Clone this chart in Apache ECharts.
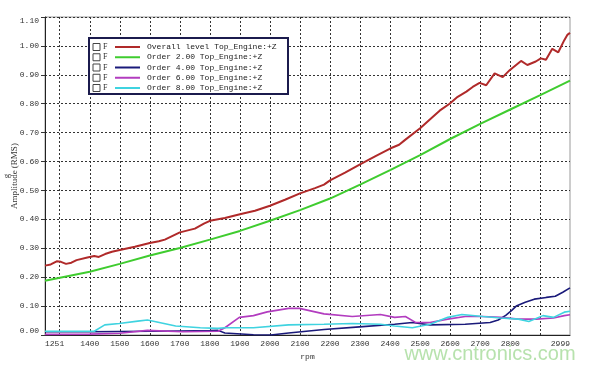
<!DOCTYPE html>
<html>
<head>
<meta charset="utf-8">
<script src="https://cdn.jsdelivr.net/npm/echarts@6.0.0/dist/echarts.min.js"></script>
<style>html,body{margin:0;padding:0;background:#fff;}#c{width:600px;height:366px;}</style>
</head>
<body>
<div id="c"></div>
<script>
// ---- data ----
const seriesNames = ['Overall level Top_Engine:+Z','Order 2.00 Top_Engine:+Z','Order 4.00 Top_Engine:+Z','Order 6.00 Top_Engine:+Z','Order 8.00 Top_Engine:+Z'];
const xLabelValues = [1251,1400,1500,1600,1700,1800,1900,2000,2100,2200,2300,2400,2500,2600,2700,2800,2999];
const xGridValues = [1300,1400,1500,1600,1700,1800,1900,2000,2100,2200,2300,2400,2500,2600,2700,2800,2900];

const overallRpm = [1251,1270,1290,1304,1321,1339,1356,1392,1415,1430,1451,1474,1500,1550,1600,1630,1650,1700,1750,1780,1800,1850,1900,1950,2000,2050,2100,2150,2180,2200,2250,2300,2350,2400,2430,2450,2500,2537,2565,2598,2625,2654,2675,2698,2720,2748,2775,2799,2836,2857,2885,2902,2919,2940,2960,2980,2990,2999];
const overallAmp = [0.240,0.244,0.255,0.253,0.246,0.250,0.259,0.268,0.273,0.270,0.280,0.288,0.294,0.305,0.318,0.324,0.330,0.355,0.368,0.385,0.395,0.405,0.418,0.430,0.447,0.468,0.490,0.508,0.520,0.535,0.562,0.590,0.618,0.645,0.658,0.675,0.715,0.750,0.776,0.800,0.824,0.842,0.858,0.872,0.864,0.905,0.892,0.917,0.948,0.934,0.946,0.957,0.952,0.990,0.978,1.020,1.038,1.045];

const order2Rpm = [1251,1400,1500,1600,1700,1800,1900,2000,2100,2200,2300,2400,2500,2600,2700,2800,2900,2999];
const order2Amp = [0.188,0.219,0.246,0.275,0.301,0.330,0.360,0.395,0.432,0.472,0.520,0.570,0.622,0.678,0.730,0.780,0.830,0.880];

const order4Rpm = [1251,1400,1500,1600,1700,1800,1827,1850,1945,2003,2062,2180,2298,2415,2474,2533,2650,2733,2760,2785,2805,2820,2850,2880,2920,2950,2975,2999];
const order4Amp = [0.011,0.011,0.012,0.013,0.014,0.015,0.016,0.007,0.001,0.000,0.007,0.019,0.028,0.037,0.043,0.035,0.037,0.043,0.052,0.068,0.085,0.100,0.113,0.124,0.130,0.134,0.148,0.163];

const order6Rpm = [1251,1400,1500,1592,1709,1827,1850,1898,1945,1991,2062,2098,2180,2274,2368,2415,2451,2486,2533,2592,2650,2709,2768,2827,2886,2944,2980,2999];
const order6Amp = [0.002,0.003,0.006,0.016,0.011,0.013,0.025,0.061,0.067,0.080,0.092,0.092,0.073,0.064,0.071,0.061,0.064,0.043,0.043,0.055,0.064,0.064,0.061,0.055,0.055,0.059,0.067,0.070];

const order8Rpm = [1251,1415,1450,1498,1560,1592,1620,1686,1768,1827,1850,1945,2062,2180,2274,2368,2415,2474,2533,2592,2639,2709,2768,2827,2862,2909,2944,2980,2999];
const order8Amp = [0.013,0.013,0.035,0.040,0.048,0.052,0.046,0.031,0.025,0.023,0.025,0.025,0.035,0.037,0.040,0.037,0.031,0.025,0.037,0.061,0.071,0.064,0.059,0.055,0.047,0.067,0.061,0.079,0.082];

const colors = ['#b02a2a','#3fcc2f','#1a1a7a','#b23cbf','#3fd3e0'];
const widths = [2,2,1.6,1.6,1.6];

function zip(a,b){ return a.map((v,i)=>[v,b[i]]); }
const allData = [zip(overallRpm,overallAmp),zip(order2Rpm,order2Amp),zip(order4Rpm,order4Amp),zip(order6Rpm,order6Amp),zip(order8Rpm,order8Amp)];

const chart = echarts.init(document.getElementById('c'), null, {renderer:'canvas'});
const axisFont = {fontFamily:'Liberation Mono', fontSize:8, color:'#333'};

const rowY = [47,57.25,67.5,77.75,88];
const graphics = [
  {type:'rect', z:50, shape:{x:89,y:38,width:199,height:56}, style:{fill:'#fff', stroke:'#1b1b4d', lineWidth:2}},
  {type:'text', z:60, x:7, y:176, rotation:Math.PI/2, style:{text:'g', font:'9px Liberation Serif', fill:'#333', align:'center', verticalAlign:'middle'}},
  {type:'text', z:60, x:490, y:354, style:{text:'www.cntronics.com', font:'20px Liberation Sans', fill:'#b7e2ad', align:'center', verticalAlign:'middle'}}
];
rowY.forEach(y=>{
  graphics.push({type:'rect', z:60, shape:{x:93,y:y-3.5,width:7,height:7}, style:{fill:'#fff', stroke:'#444', lineWidth:1}});
  graphics.push({type:'text', z:60, x:103, y:y, style:{text:'F', font:'8px Liberation Serif', fill:'#333', verticalAlign:'middle'}});
});

chart.setOption({
  animation:false,
  backgroundColor:'#fff',
  grid:{left:45, right:30, top:17, bottom:31, outerBoundsMode:'none', containLabel:false, show:true, borderColor:'#9a9a9a', borderWidth:1},
  legend:{
    data:seriesNames.map((n,i)=>({name:n, icon:'rect', itemStyle:{color:colors[i]}})),
    orient:'vertical', left:115, top:42, padding:0, itemGap:0.25,
    itemWidth:25, itemHeight:2, selectedMode:false, z:55,
    textStyle:{fontFamily:'Liberation Mono', fontSize:8, lineHeight:10, color:'#222', padding:[0,0,0,2]}
  },
  xAxis:{
    type:'value', min:1251, max:2999,
    name:'rpm', nameLocation:'middle', nameGap:17,
    nameTextStyle:{fontFamily:'Liberation Mono', fontSize:8, color:'#333'},
    axisLine:{show:true, onZero:false, lineStyle:{color:'#222', width:1}},
    axisTick:{show:false, customValues:xGridValues},
    axisLabel:Object.assign({customValues:xLabelValues, formatter:v=>String(Math.round(v)), margin:5, alignMinLabel:'left', alignMaxLabel:'right', showMinLabel:true, showMaxLabel:true}, axisFont),
    splitLine:{show:true, lineStyle:{color:'#333', type:[2,2], width:1}}
  },
  yAxis:{
    type:'value', min:0, max:1.1, interval:0.1,
    name:'Amplitude (RMS)', nameLocation:'middle', nameGap:26, nameMoveOverlap:false,
    nameTextStyle:{fontFamily:'Liberation Serif', fontSize:9, color:'#333'},
    axisLine:{show:true, lineStyle:{color:'#222', width:1}},
    axisTick:{show:true, length:4, lineStyle:{color:'#333'}},
    axisLabel:Object.assign({formatter:v=>v.toFixed(2), margin:6, verticalAlignMinLabel:'bottom', verticalAlignMaxLabel:'top'}, axisFont),
    splitLine:{show:true, lineStyle:{color:'#333', type:[2,2], width:1}}
  },
  graphic:graphics,
  series:seriesNames.map((n,i)=>({
    name:n, type:'line', data:allData[i], symbol:'none', showSymbol:false, smooth:false,
    lineStyle:{color:colors[i], width:widths[i]}, itemStyle:{color:colors[i]}, z:2+ (i===0?1:0)
  }))
});
</script>
</body>
</html>
